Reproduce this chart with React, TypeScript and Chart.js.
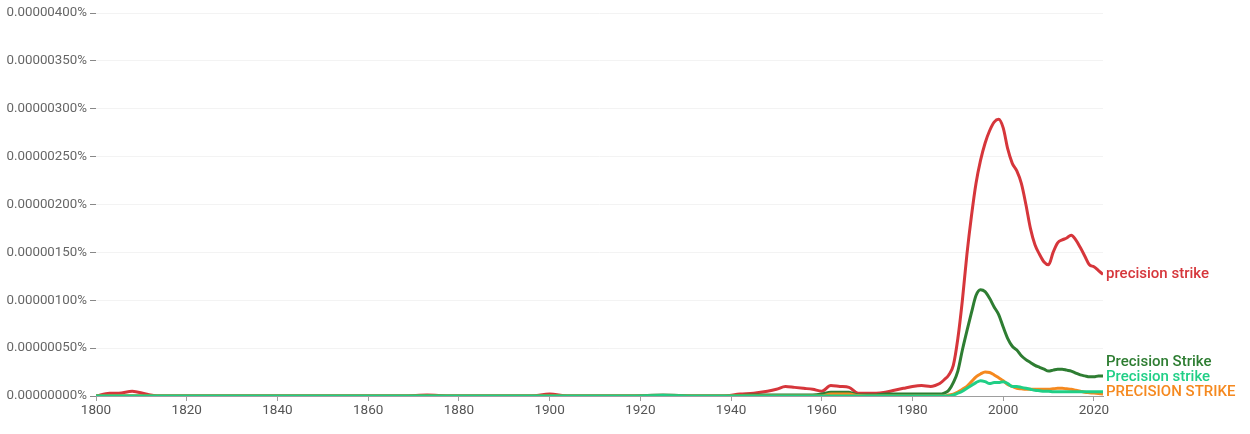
import { useEffect, useRef } from "react";
import { Chart, registerables, Plugin } from "chart.js";
Chart.register(...registerables);

// values are in units of 0.00000001 %
const UNIT = 1e-8;

const years = [
  1800, 1803, 1805, 1808, 1811, 1814, 1820, 1830, 1840, 1850, 1860, 1868, 1873, 1878, 1885, 1890,
  1896, 1900, 1904, 1910, 1918, 1925, 1932, 1938, 1942, 1945, 1948, 1950, 1952, 1954, 1956, 1958,
  1960, 1962, 1964, 1966, 1968, 1970, 1972, 1974, 1976, 1978, 1980, 1982, 1984, 1985, 1986, 1987,
  1988, 1989, 1990, 1991, 1992, 1993, 1994, 1995, 1996, 1997, 1998, 1999, 2000, 2001, 2002, 2003,
  2004, 2005, 2006, 2007, 2008, 2009, 2010, 2011, 2012, 2013, 2014, 2015, 2016, 2017, 2018, 2019,
  2020, 2021, 2022,
];

const precisionStrikeLower = [
  0, 3, 3, 5, 2, 0, 0, 0, 0, 0, 0, 0, 1, 0, 0, 0,
  0, 2, 0, 0, 0, 0.5, 0, 0, 2, 3, 5, 7, 10, 9, 8, 7,
  5, 11, 10, 9, 3, 3, 3, 4, 6, 8, 10, 11, 10, 11, 13, 17,
  22, 32, 60, 100, 148, 188, 222, 246, 264, 277, 286, 289, 280, 258, 243, 235,
  222, 200, 175, 158, 148, 140, 137, 150, 160, 163, 165, 168, 163, 155, 146, 137,
  135, 131, 127,
];

const precisionStrikeTitle = [
  0, 0, 0, 0, 0, 0, 0, 0, 0, 0, 0, 0, 0.5, 0, 0, 0,
  0, 0, 0, 0, 0, 1, 0, 0, 0.5, 1, 1, 1, 1, 1, 1, 1,
  2, 4, 4, 4, 1, 1, 1, 2, 2, 2, 2, 2, 2, 2, 2, 3,
  6, 14, 26, 48, 68, 87, 105, 111, 109, 102, 93, 85, 72, 60, 52, 48,
  42, 38, 35, 32, 30, 28, 26, 27, 28, 28, 27, 26, 24, 22, 21, 20,
  20, 21, 21,
];

const precisionStrikeSentence = [
  0, 0, 0, 0, 0, 0, 0, 0, 0, 0, 0, 0, 0, 0, 0, 0,
  0, 0, 0, 0, 0, 0.5, 0, 0, 0, 0, 0, 0, 0, 0, 0, 0,
  0, 0, 0, 0, 0, 0, 0, 0, 0, 0, 0, 0, 0, 0, 0, 0,
  0, 1, 3, 5, 8, 11, 14, 16, 15, 13, 14, 14, 15, 13, 10, 10,
  9, 8, 7, 6, 5.5, 5, 5, 4.5, 4.5, 4.5, 4.5, 4.5, 4.5, 4.5, 4.5, 4.5,
  4.5, 4.5, 4.5,
];

const precisionStrikeUpper = [
  0, 0, 0, 0, 0, 0, 0, 0, 0, 0, 0, 0, 0, 0, 0, 0,
  0, 0, 0, 0, 0, 0, 0, 0, 0, 0, 0, 0, 0, 0, 0, 0,
  0, 2, 2, 2, 0.5, 0, 0, 0, 0, 0, 0, 0, 0, 0, 0, 0,
  1, 2, 4, 7, 10, 15, 20, 23, 25, 24.5, 22, 19, 16, 12, 10, 8,
  7.5, 7, 7, 7, 7, 7, 7, 7.5, 8, 8, 7.5, 7, 6, 5, 4, 3.5,
  3, 2.5, 2,
];

const seriesNames = ["precision strike", "Precision Strike", "PRECISION STRIKE", "Precision strike"];
const seriesColors = ["#d6363b", "#2e7d32", "#f5891f", "#20cf86"];
const seriesValues = [precisionStrikeLower, precisionStrikeTitle, precisionStrikeUpper, precisionStrikeSentence];
const drawOrder = [3, 2, 1, 0];

const yTickStep = 50;
const yMax = 400;
const xTickStep = 20;

// labels at the right end of each line, pushed apart when they overlap
const endLabels: Plugin<"line"> = {
  id: "endLabels",
  afterDatasetsDraw(chart) {
    const ctx = chart.ctx;
    const gap = 15;
    const items = chart.data.datasets.map((ds, i) => {
      const meta = chart.getDatasetMeta(i);
      const last = meta.data[meta.data.length - 1];
      return { text: ds.label as string, color: ds.borderColor as string, x: last.x + 3, y: last.y };
    });
    const sorted = [...items].sort((a, b) => b.y - a.y);
    let prev = Infinity;
    for (const it of sorted) {
      it.y = Math.min(it.y, prev - gap, chart.chartArea.bottom - 4);
      prev = it.y;
    }
    ctx.save();
    ctx.font = "500 15px Roboto";
    ctx.textAlign = "left";
    ctx.textBaseline = "middle";
    for (const it of items) {
      ctx.fillStyle = it.color;
      ctx.fillText(it.text, it.x, it.y);
    }
    ctx.restore();
  },
};

const App = () => {
  const chartRef = useRef<HTMLCanvasElement | null>(null);
  const chartInstance = useRef<Chart | null>(null);

  useEffect(() => {
    document.body.style.margin = "0";
    if (!chartRef.current) return;
    const ctx = chartRef.current.getContext("2d");
    if (!ctx) return;

    if (chartInstance.current) chartInstance.current.destroy();

    chartInstance.current = new Chart(ctx, {
      type: "line",
      data: {
        datasets: seriesNames.map((name, i) => ({
          label: name,
          data: years.map((yr, j) => ({ x: yr, y: seriesValues[i][j] })),
          borderColor: seriesColors[i],
          backgroundColor: seriesColors[i],
          borderWidth: 3,
          pointRadius: 0,
          tension: 0.4,
          cubicInterpolationMode: "monotone" as const,
          order: drawOrder[i],
        })),
      },
      options: {
        animation: false,
        responsive: true,
        maintainAspectRatio: false,
        layout: { padding: { top: 13, right: 147, left: 0, bottom: 0 } },
        plugins: {
          legend: { display: false },
          tooltip: { enabled: false },
        },
        scales: {
          x: {
            type: "linear",
            min: 1800,
            max: 2022,
            afterFit: (scale) => {
              scale.height = 38;
            },
            ticks: {
              stepSize: xTickStep,
              includeBounds: false,
              padding: 2,
              color: "#555",
              font: { family: "Roboto", size: 13.5 },
              callback: (v) => String(v),
              maxRotation: 0,
            },
            grid: { drawOnChartArea: false, drawTicks: true, tickLength: 5, tickColor: "#9e9e9e" },
            border: { display: true, color: "#9e9e9e", width: 1 },
          },
          y: {
            min: 0,
            max: yMax,
            afterFit: (scale) => {
              scale.width = 96;
            },
            ticks: {
              stepSize: yTickStep,
              padding: 3,
              color: "#666",
              font: { family: "Roboto", size: 13.3 },
              callback: (v) => (Number(v) * UNIT).toFixed(8) + "%",
            },
            grid: { color: "#f3f3f3", drawTicks: true, tickLength: 6, tickColor: "#888" },
            border: { display: false },
          },
        },
      },
      plugins: [endLabels],
    });

    return () => {
      if (chartInstance.current) {
        chartInstance.current.destroy();
        chartInstance.current = null;
      }
    };
  }, []);

  return (
    <div style={{ width: 1250, height: 434, position: "relative" }}>
      <canvas ref={chartRef}></canvas>
    </div>
  );
};

export default App;
